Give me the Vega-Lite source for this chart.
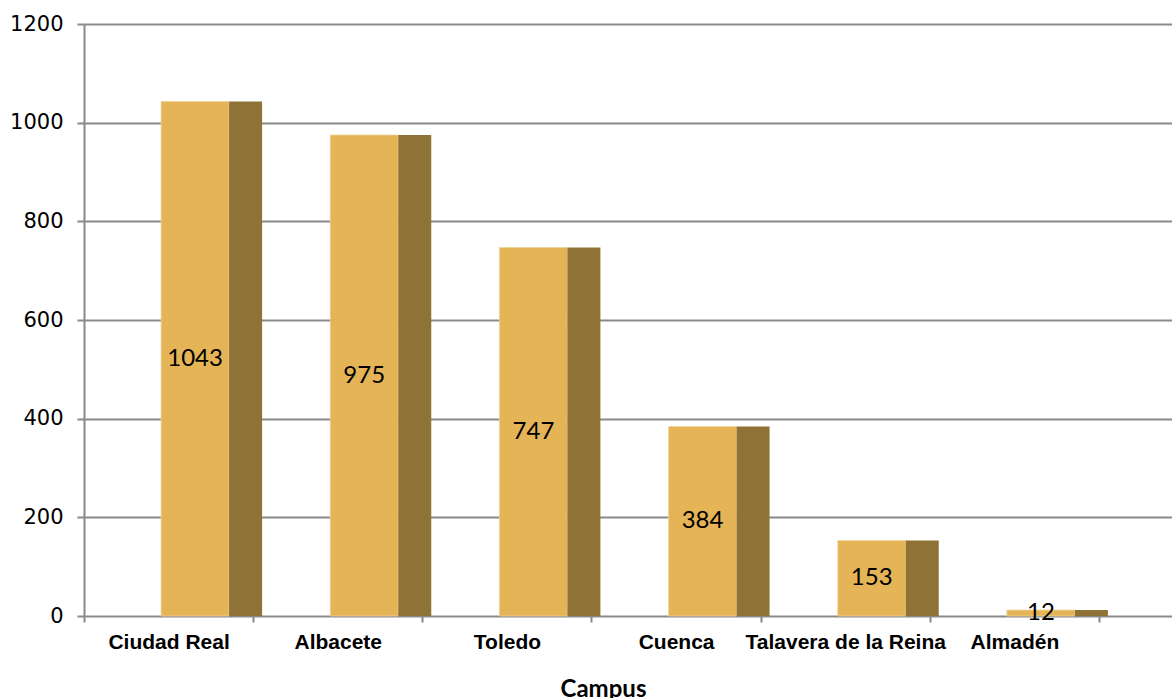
{
  "$schema": "https://vega.github.io/schema/vega-lite/v6.json",
  "width": 1088,
  "height": 592,
  "autosize": {"type": "none"},
  "padding": {"left": 84, "top": 24, "right": 0, "bottom": 82},
  "background": "white",
  "config": {"view": {"stroke": null}},
  "data": {
    "values": [
      {"campus": "Ciudad Real", "value": 1043},
      {"campus": "Albacete", "value": 975},
      {"campus": "Toledo", "value": 747},
      {"campus": "Cuenca", "value": 384},
      {"campus": "Talavera de la Reina", "value": 153},
      {"campus": "Almadén", "value": 12}
    ]
  },
  "encoding": {
    "x": {
      "field": "campus",
      "type": "nominal",
      "sort": null,
      "scale": {"type": "band", "paddingInner": 0, "paddingOuter": 0.2158, "align": 0},
      "axis": {
        "title": "Campus",
        "domain": false,
        "ticks": true,
        "tickBand": "extent",
        "tickSize": 6,
        "tickColor": "#898989",
        "tickWidth": 2,
        "grid": false,
        "labelAngle": 0,
        "labelLimit": 400,
        "labelFont": "Liberation Sans",
        "labelFontWeight": "bold",
        "labelFontSize": 21,
        "labelColor": "#000000",
        "labelBaseline": "alphabetic",
        "labelPadding": 26,
        "titleFont": "Lato",
        "titleFontWeight": "bold",
        "titleFontSize": 24,
        "titleColor": "#000000",
        "titleBaseline": "alphabetic",
        "titleX": 519,
        "titleY": 80
      }
    }
  },
  "layer": [
    {
      "mark": {"type": "bar", "width": 68, "xOffset": 26.5, "color": "#E4B456", "stroke": "#F0D39A", "strokeWidth": 0.8},
      "encoding": {
        "y": {
          "field": "value",
          "type": "quantitative",
          "scale": {"domain": [0, 1200], "nice": false},
          "axis": {
            "title": null,
            "values": [0, 200, 400, 600, 800, 1000, 1200],
            "format": "d",
            "domain": true,
            "domainColor": "#898989",
            "domainWidth": 2,
            "ticks": true,
            "tickSize": 7,
            "tickColor": "#898989",
            "tickWidth": 2,
            "grid": true,
            "gridColor": "#898989",
            "gridWidth": 2,
            "gridOpacity": 1,
            "labelFont": "DejaVu Sans",
            "labelFontSize": 21,
            "labelColor": "#000000",
            "labelPadding": 14
          }
        }
      }
    },
    {
      "mark": {"type": "bar", "width": 33, "xOffset": 77, "color": "#8F7336"},
      "encoding": {
        "y": {"field": "value", "type": "quantitative", "scale": {"domain": [0, 1200], "nice": false}, "axis": null}
      }
    },
    {
      "mark": {"type": "text", "xOffset": 26.5, "font": "Lato", "fontSize": 24, "color": "#000000", "baseline": "middle"},
      "encoding": {
        "y": {"field": "value", "type": "quantitative", "scale": {"domain": [0, 2400], "nice": false}, "axis": null},
        "text": {"field": "value", "type": "quantitative"}
      }
    }
  ],
  "resolve": {"scale": {"y": "independent"}}
}
